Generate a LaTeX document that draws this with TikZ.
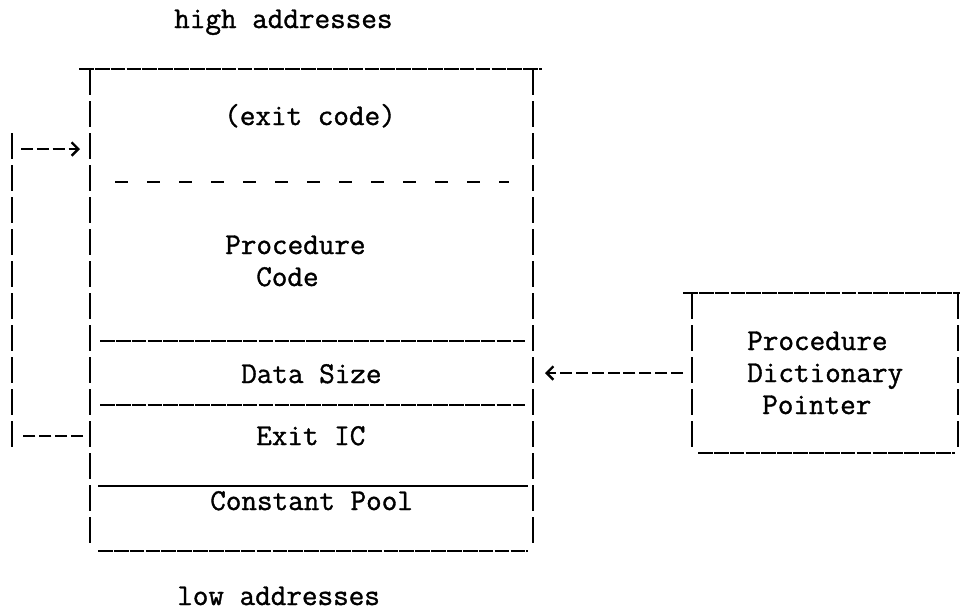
\documentclass[tikz,border=0pt]{standalone}
\usepackage{amsmath}
\usepackage{fontspec}
\newfontfamily\typerfont[FakeBold=1.2]{Latin Modern Mono}
\usetikzlibrary{arrows.meta}

\begin{document}
\begin{tikzpicture}[x=0.75pt,y=0.75pt,yscale=-1,xscale=1,
  lbl/.style={anchor=base west,inner sep=0pt,font=\typerfont\fontsize{22.7}{27}\selectfont},
  wall/.style={line width=1.9pt,dash pattern={on 19.5pt off 4.5pt}},
  rule/.style={line width=1.3pt,dash pattern={on 11pt off 0.9pt}},
  gapline/.style={line width=1.6pt,dash pattern={on 10pt off 14pt}},
  ptr/.style={line width=1.5pt,dash pattern={on 9pt off 2.9pt}},
  ptrhead/.style={ptr,-{Straight Barb[length=5pt,width=10pt,line width=1.8pt]}}
]
%set diagram to the page size
\useasboundingbox (0,0) rectangle (961,611);

% Text Node
\draw (174,28) node (high) [lbl] {high addresses};
% Text Node
\draw (224,125) node (exitcode) [lbl] {(exit code)};
% Text Node
\draw (225,254) node (proc) [lbl] {Procedure};
% Text Node
\draw (256,286) node (code) [lbl] {Code};
% Text Node
\draw (241,383) node (dsize) [lbl] {Data Size};
% Text Node
\draw (256,445) node (exitic) [lbl] {Exit IC};
% Text Node
\draw (210,510) node (pool) [lbl] {Constant Pool};
% Text Node
\draw (177,605) node (low) [lbl] {low addresses};
% Text Node
\draw (747,350) node (pdpa) [lbl] {Procedure};
% Text Node
\draw (747,382) node (pdpb) [lbl] {Dictionary};
% Text Node
\draw (762,414) node (pdpc) [lbl] {Pointer};

% main box
\draw [rule] (79,69) -- (542,69);
\draw [wall] (90,69) -- (90,543);
\draw [wall] (533,69) -- (533,544);
\draw [gapline] (115,182) -- (509,182);
\draw [rule] (100,341) -- (525,341);
\draw [rule] (100,405) -- (525,405);
\draw [line width=1.2pt] (98,486) -- (528,486);
\draw [rule] (98,551) -- (528,551);

% pointer box
\draw [rule] (683,293) -- (960,293);
\draw [wall] (692,293) -- (692,447);
\draw [wall] (958,293) -- (958,447);
\draw [rule] (698,453) -- (955,453);

\coordinate (looptop) at (12,133);
\coordinate (loopbot) at (12,447);
\coordinate (loopin) at (21,149);
\coordinate (entry) at (80,149);
\coordinate (loopout) at (21,436);
\coordinate (exitwall) at (83,436);
\coordinate (ptrtail) at (683,373);
\coordinate (ptrtip) at (545,373);

% Connection
\draw [wall] (looptop) -- (loopbot);
% Connection
\draw [ptr] (exitwall) -- (loopout);
% Connection
\draw [ptrhead] (loopin) -- (entry);
% Connection
\draw [ptrhead] (ptrtail) -- (ptrtip);

\end{tikzpicture}
\end{document}
